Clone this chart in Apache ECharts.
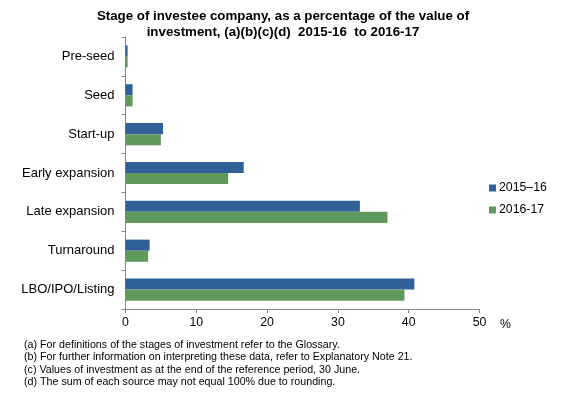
<!DOCTYPE html>
<html><head><meta charset="utf-8">
<script src="https://cdn.jsdelivr.net/npm/echarts@6/dist/echarts.min.js"></script>
<style>html,body{margin:0;padding:0;background:#fff}#c{width:565px;height:396px}</style>
</head><body><div id="c"></div>
<script>
const categories = ['Pre-seed','Seed','Start-up','Early expansion','Late expansion','Turnaround','LBO/IPO/Listing'];
const series2015 = [0.3, 1.0, 5.3, 16.7, 33.1, 3.4, 40.8];
const series2016 = [0.3, 1.0, 5.0, 14.5, 37.0, 3.2, 39.4];
const seriesNames = ['2015–16', '2016-17'];
const xTicks = [0, 10, 20, 30, 40, 50];
const titleText = 'Stage of investee company, as a percentage of the value of\ninvestment, (a)(b)(c)(d)  2015-16  to 2016-17';
const footnotes = [
  '(a) For definitions of the stages of investment refer to the Glossary.',
  '(b) For further information on interpreting these data, refer to Explanatory Note 21.',
  '(c) Values of investment as at the end of the reference period, 30 June.',
  '(d) The sum of each source may not equal 100% due to rounding.'
];
const font = 'Arial, "Liberation Sans", sans-serif';
const chart = echarts.init(document.getElementById('c'), null, {renderer:'canvas'});
chart.setOption({
  animation:false,
  backgroundColor:'#fff',
  title:[{
    text:titleText, left:283, textAlign:'center', top:8, padding:0,
    textStyle:{fontFamily:font,fontSize:13.3,fontWeight:'bold',color:'#000',lineHeight:16}
  },{
    text:footnotes.join('\n'), left:24, top:339, padding:0,
    textStyle:{fontFamily:font,fontSize:10.7,fontWeight:'normal',color:'#000',lineHeight:12.3}
  }],
  legend:{
    orient:'vertical', left:484, top:177, itemWidth:7, itemHeight:7, itemGap:10,
    icon:'rect',
    textStyle:{fontFamily:font,fontSize:12.3,color:'#000',padding:[0,0,0,-2]},
    data:seriesNames
  },
  grid:{left:125.5, right:85.5, top:37, bottom:87, containLabel:false},
  xAxis:{
    type:'value', min:xTicks[0], max:xTicks[xTicks.length-1], interval:10,
    axisLine:{show:true,lineStyle:{color:'#868686',width:1}},
    axisTick:{show:true,length:4,lineStyle:{color:'#868686'}},
    splitLine:{show:false},
    axisLabel:{fontFamily:font,fontSize:12.3,color:'#000',margin:8}
  },
  yAxis:{
    type:'category', data:categories, inverse:true,
    axisLine:{show:true,lineStyle:{color:'#868686',width:1}},
    axisTick:{show:true,length:4,lineStyle:{color:'#868686'}},
    axisLabel:{fontFamily:font,fontSize:13,color:'#000',margin:11}
  },
  graphic:[{type:'text', left:500, top:319, style:{text:'%', font:'12.3px '+font, fill:'#000'}}],
  series:[
    {name:seriesNames[0], type:'bar', data:series2015, barGap:'0%', barCategoryGap:'43%', itemStyle:{color:'#2f6097'}},
    {name:seriesNames[1], type:'bar', data:series2016, barGap:'0%', barCategoryGap:'43%', itemStyle:{color:'#5f995b'}}
  ]
});
</script></body></html>
